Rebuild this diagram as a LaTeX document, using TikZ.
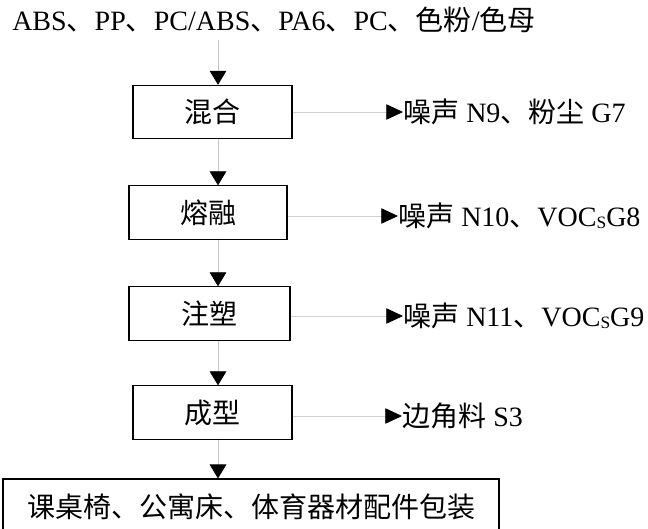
\documentclass[tikz,border=0pt]{standalone}
\usepackage{fontspec}
\setmainfont{Liberation Serif}
\newfontfamily\cjk{Noto Sans CJK SC}
\usetikzlibrary{arrows.meta}
\newcommand{\sub}[1]{\raisebox{-1.5pt}{\fontsize{13}{15}\selectfont #1}}
\begin{document}
\begin{tikzpicture}[x=0.75pt,y=-0.75pt,
  every node/.style={font=\fontsize{21}{25}\selectfont, inner sep=0pt},
  procbox/.style={draw=black, line width=0.8pt, minimum height=40pt},
  flow/.style={draw=black!22, line width=0.6pt,
    -{Triangle[length=10.5pt,width=12.5pt,color=black]}},
  side/.style={draw=black!18, line width=0.6pt,
    -{Triangle[length=12.5pt,width=11.5pt,color=black]}},
  sidetext/.style={anchor=west}
]
\useasboundingbox (0,0) rectangle (648,528);
\clip (0,0) rectangle (648,528);

\node[anchor=west] (src) at (12,20)
  {ABS{\cjk 、}PP{\cjk 、}PC/ABS{\cjk 、}PA6{\cjk 、}PC{\cjk 、色粉}/{\cjk 色母}};
\coordinate (ax) at (218,40);

\node[procbox, minimum width=119.25pt] (b1) at (212.5,112) {\cjk 混合};
\node[procbox, minimum width=118.5pt] (b2) at (208,212.5) {\cjk 熔融};
\node[procbox, minimum width=120.75pt] (b3) at (209.5,313.5) {\cjk 注塑};
\node[procbox, minimum width=119.25pt] (b4) at (212.5,412.5) {\cjk 成型};
\node[procbox, minimum width=372pt, minimum height=42pt] (b5) at (251,507)
  {\cjk 课桌椅、公寓床、体育器材配件包装};

\draw[flow] (ax) -- (ax |- b1.north);
\draw[flow] (ax |- b1.south) -- (ax |- b2.north);
\draw[flow] (ax |- b2.south) -- (ax |- b3.north);
\draw[flow] (ax |- b3.south) -- (ax |- b4.north);
\draw[flow] (ax |- b4.south) -- (ax |- b5.north);

\node[sidetext] (r1) at (403,112) {{\cjk 噪声} N9{\cjk 、粉尘} G7};
\node[sidetext] (r2) at (398,216) {{\cjk 噪声} N10{\cjk 、}VOC\sub{S}G8};
\node[sidetext] (r3) at (403,316) {{\cjk 噪声} N11{\cjk 、}VOC\sub{S}G9};
\node[sidetext] (r4) at (402,416) {{\cjk 边角料} S3};

\draw[side] (b1.east |- r1.west) -- (r1.west);
\draw[side] (b2.east |- r2.west) -- (r2.west);
\draw[side] (b3.east |- r3.west) -- (r3.west);
\draw[side] (b4.east |- r4.west) -- (r4.west);
\end{tikzpicture}
\end{document}
